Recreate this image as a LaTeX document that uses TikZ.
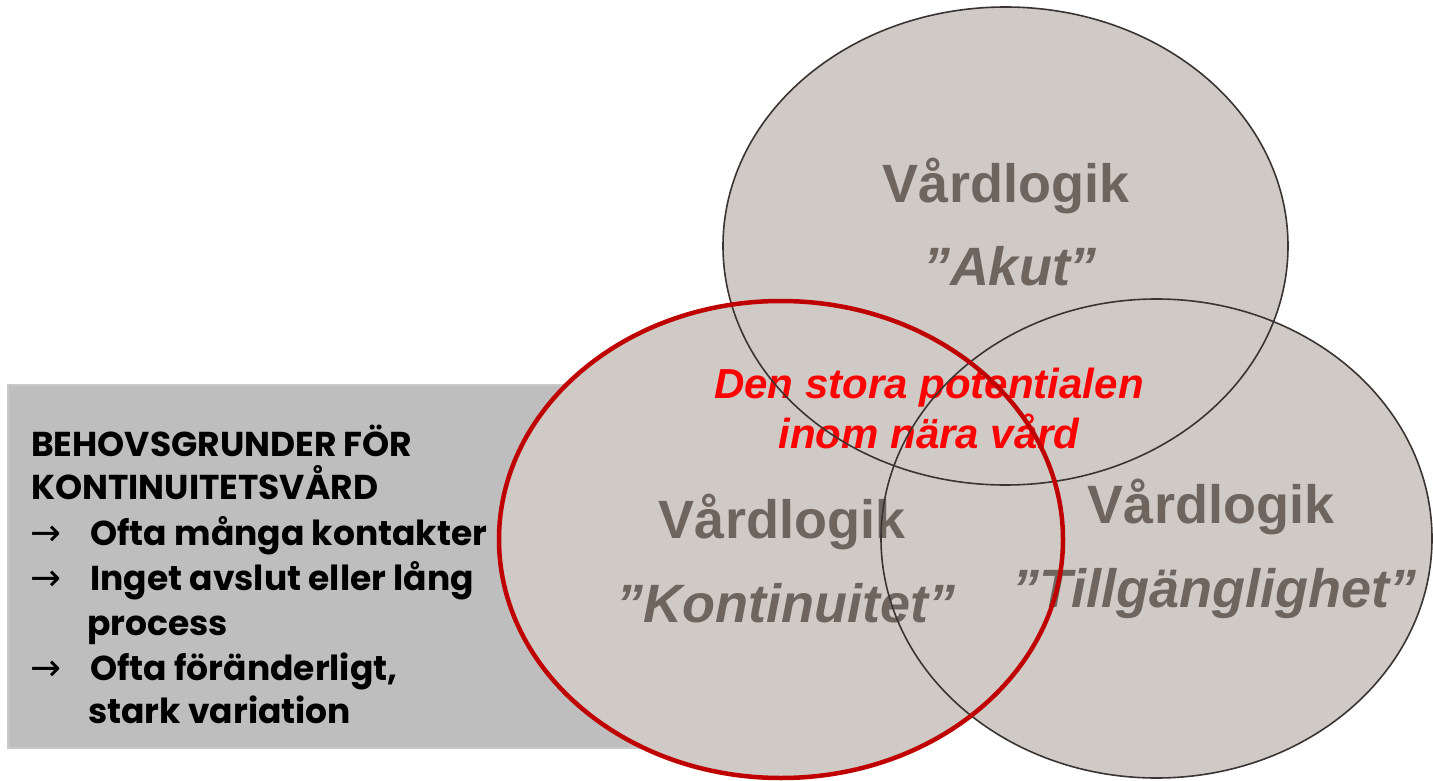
\documentclass[tikz,border=0pt]{standalone}
\usepackage{fontspec}
\setmainfont{Liberation Sans}
\newfontfamily\boxfont{Poppins}
\newfontfamily\symfont{DejaVu Sans}
\definecolor{vennfill}{HTML}{CFCAC6}
\definecolor{vennline}{HTML}{3A3532}
\definecolor{logictext}{HTML}{6E655E}
\definecolor{kontred}{HTML}{C00000}
\definecolor{boxfill}{HTML}{BEBEBE}
\definecolor{boxedge}{HTML}{C9C9C9}
\tikzset{
  logic/.style={anchor=base, text=logictext, inner sep=0pt,
    font=\fontsize{54}{60}\selectfont\bfseries},
  quoted/.style={logic, font=\fontsize{54}{60}\selectfont\bfseries\itshape},
  potential/.style={anchor=base, text=red, inner sep=0pt,
    font=\fontsize{42}{48}\selectfont\bfseries\itshape},
  boxline/.style={anchor=base west, inner sep=0pt, text=black,
    font=\boxfont\fontsize{34.5}{38}\selectfont\bfseries},
  boxarrow/.style={anchor=base west, inner sep=0pt, text=black,
    font=\symfont\fontsize{37}{40}\selectfont},
}
\begin{document}
\begin{tikzpicture}[x=1pt,y=-1pt]
\useasboundingbox (0,0) rectangle (1433,781);
\fill[white] (0,0) rectangle (1433,781);

% grey panel behind the circles
\draw[boxedge, fill=boxfill, line width=2pt] (8,385) rectangle (655,748);

% circle fills
\fill[vennfill] (1005.5,246) ellipse [x radius=282.5, y radius=239];
\fill[vennfill] (781,539.5) ellipse [x radius=282, y radius=238.5];
\fill[vennfill] (1156.5,538.5) ellipse [x radius=275.5, y radius=239.5];

% circle labels
\node[logic]  (akut1) at (1006,202) {Vårdlogik};
\node[quoted] (akut2) at (1010,285) {”Akut”};
\node[logic]  (kont1) at (782,538) {Vårdlogik};
\node[quoted] (kont2) at (786,622) {”Kontinuitet”};
\node[logic]  (till1) at (1211,523) {Vårdlogik};
\node[quoted] (till2) at (1214,607) {”Tillgänglighet”};

% centre message
\node[potential] (pot1) at (929,398) {Den stora potentialen};
\node[potential] (pot2) at (929,448) {inom nära vård};

% circle outlines
\draw[vennline, line width=1.6pt] (1005.5,246) ellipse [x radius=282.5, y radius=239];
\draw[vennline, line width=1.6pt] (1156.5,538.5) ellipse [x radius=275.5, y radius=239.5];
\draw[kontred, line width=4.5pt] (781,539.5) ellipse [x radius=282, y radius=238.5];

% panel text
\node[boxline] (h1) at (31,456) {BEHOVSGRUNDER FÖR};
\node[boxline] (h2) at (31,499) {KONTINUITETSVÅRD};
\node[boxarrow] (a1) at (30,545) {→};
\node[boxline] (l1) at (90,545) {Ofta många kontakter};
\node[boxarrow] (a2) at (30,590) {→};
\node[boxline] (l2) at (90,590) {Inget avslut eller lång};
\node[boxline] (l3) at (87,635) {process};
\node[boxarrow] (a3) at (30,680) {→};
\node[boxline] (l4) at (90,680) {Ofta föränderligt,};
\node[boxline] (l5) at (88,723) {stark variation};
\end{tikzpicture}
\end{document}
